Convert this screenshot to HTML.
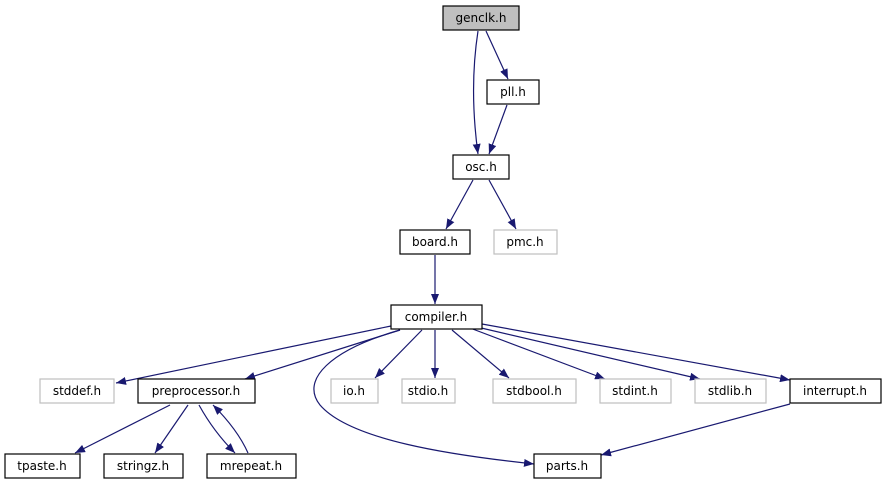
<!DOCTYPE html>
<html><head><style>body{margin:0;background:#fff}svg{display:block}text{font-family:"DejaVu Sans","Liberation Sans",sans-serif;font-size:12px;text-anchor:middle}</style></head><body>
<svg width="887" height="485" viewBox="0 0 887 485">
<defs><marker id="a" viewBox="0 0 10 8" refX="10" refY="4" markerWidth="10" markerHeight="8" orient="auto" markerUnits="userSpaceOnUse"><path d="M0,0L10,4L0,8z" fill="#191970"/></marker></defs>
<g fill="none" stroke="#191970" stroke-width="1.2" marker-end="url(#a)">
<path d="M478,31C472,70 472,110 478,154"/>
<path d="M486,31L508,79"/>
<path d="M507,105L489,154"/>
<path d="M473,180L446,229"/>
<path d="M489,180L516,229"/>
<path d="M435,255L435,304"/>
<path d="M391,326L116,383"/>
<path d="M400,330L245,379"/>
<path d="M400,330C330,350 300,380 320,405C350,440 450,455 534,464"/>
<path d="M422,330L375,378"/>
<path d="M435,330L435,378"/>
<path d="M452,330L509,378"/>
<path d="M470,328L605,379"/>
<path d="M477,327L700,379"/>
<path d="M482,324L790,380"/>
<path d="M170,405L75,453"/>
<path d="M188,405L155,453"/>
<path d="M199,405C210,425 222,440 235,453"/>
<path d="M248,453C240,435 228,420 213,405"/>
<path d="M790,404L601,455"/>
</g>
<g stroke-width="1.2">
<rect x="443" y="6" width="76" height="24" fill="#bfbfbf" stroke="#000"/><text x="481" y="22">genclk.h</text>
<rect x="487" y="80" width="52" height="24" fill="#fff" stroke="#000"/><text x="513" y="96">pll.h</text>
<rect x="453" y="155" width="56" height="24" fill="#fff" stroke="#000"/><text x="481" y="171">osc.h</text>
<rect x="400" y="230" width="70" height="24" fill="#fff" stroke="#000"/><text x="435" y="246">board.h</text>
<rect x="494" y="230" width="63" height="24" fill="#fff" stroke="#bfbfbf"/><text x="525" y="246">pmc.h</text>
<rect x="391" y="305" width="91" height="24" fill="#fff" stroke="#000"/><text x="436" y="321">compiler.h</text>
<rect x="40" y="379" width="74" height="24" fill="#fff" stroke="#bfbfbf"/><text x="77" y="395">stddef.h</text>
<rect x="138" y="379" width="117" height="24" fill="#fff" stroke="#000"/><text x="196" y="395">preprocessor.h</text>
<rect x="331" y="379" width="47" height="24" fill="#fff" stroke="#bfbfbf"/><text x="354" y="395">io.h</text>
<rect x="402" y="379" width="53" height="24" fill="#fff" stroke="#bfbfbf"/><text x="428" y="395">stdio.h</text>
<rect x="493" y="379" width="83" height="24" fill="#fff" stroke="#bfbfbf"/><text x="534" y="395">stdbool.h</text>
<rect x="600" y="379" width="71" height="24" fill="#fff" stroke="#bfbfbf"/><text x="635" y="395">stdint.h</text>
<rect x="695" y="379" width="71" height="24" fill="#fff" stroke="#bfbfbf"/><text x="730" y="395">stdlib.h</text>
<rect x="790" y="379" width="91" height="24" fill="#fff" stroke="#000"/><text x="835" y="395">interrupt.h</text>
<rect x="5" y="454" width="75" height="24" fill="#fff" stroke="#000"/><text x="42" y="470">tpaste.h</text>
<rect x="104" y="454" width="79" height="24" fill="#fff" stroke="#000"/><text x="143" y="470">stringz.h</text>
<rect x="207" y="454" width="89" height="24" fill="#fff" stroke="#000"/><text x="251" y="470">mrepeat.h</text>
<rect x="534" y="454" width="67" height="24" fill="#fff" stroke="#000"/><text x="567" y="470">parts.h</text>
</g>
</svg></body></html>
